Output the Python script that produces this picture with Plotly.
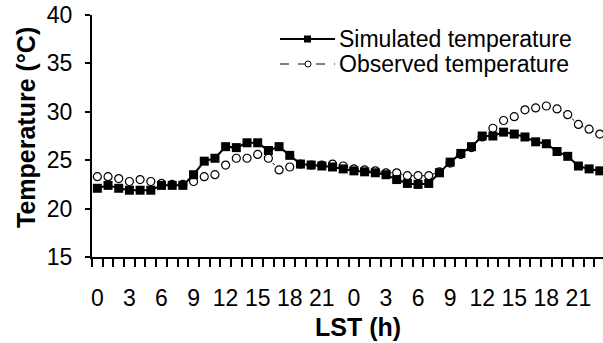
import plotly.graph_objects as go

hours = list(range(24)) * 2
x_index = list(range(48))
tick_positions = list(range(0, 48, 3))
tick_labels = [str(h) for h in hours[0:48:3]]

simulated = [22.1, 22.4, 22.1, 21.9, 21.9, 21.9, 22.4, 22.4, 22.4, 23.5, 24.9, 25.2,
             26.4, 26.3, 26.8, 26.8, 26.0, 26.4, 25.5, 24.6, 24.5, 24.4, 24.3, 24.1,
             23.9, 23.8, 23.7, 23.5, 23.0, 22.6, 22.5, 22.6, 23.7, 24.8, 25.7, 26.4,
             27.5, 27.5, 27.9, 27.7, 27.4, 26.9, 26.7, 25.9, 25.4, 24.4, 24.1, 23.9]
observed = [23.3, 23.3, 23.1, 22.8, 23.0, 22.8, 22.6, 22.5, 22.5, 22.8, 23.3, 23.5,
            24.5, 25.2, 25.2, 25.6, 25.2, 24.0, 24.3, 24.6, 24.5, 24.5, 24.6, 24.4,
            24.1, 24.0, 23.9, 23.7, 23.7, 23.4, 23.4, 23.4, 23.8, 24.7, 25.6, 26.3,
            27.4, 28.3, 29.1, 29.5, 30.2, 30.4, 30.6, 30.3, 29.7, 28.7, 28.2, 27.7]

FONT = "Liberation Sans, Arial, sans-serif"
TICK_SIZE = 23
TITLE_SIZE = 25

fig = go.Figure()
fig.add_trace(go.Scatter(
    x=x_index, y=observed, mode="lines+markers", name="Observed temperature",
    line=dict(color="black", width=1, dash="3px,8px"),
    marker=dict(symbol="circle", size=8, color="white", line=dict(color="black", width=1.2)),
    showlegend=False))
fig.add_trace(go.Scatter(
    x=x_index, y=simulated, mode="lines+markers", name="Simulated temperature",
    line=dict(color="black", width=2),
    marker=dict(symbol="square", size=9, color="black"),
    showlegend=False))

fig.update_layout(
    width=603, height=343,
    margin=dict(l=92, r=0, t=15, b=86),
    paper_bgcolor="white", plot_bgcolor="white",
    font=dict(family=FONT, color="black", size=TICK_SIZE),
    xaxis=dict(
        range=[-0.5, 47.3], showgrid=False, zeroline=False,
        showline=True, linecolor="black", linewidth=2,
        tickmode="array", tickvals=tick_positions, ticktext=tick_labels,
        ticks="outside", ticklen=19, tickcolor="rgba(0,0,0,0)",
        tickfont=dict(size=TICK_SIZE, family=FONT),
        minor=dict(tickmode="array", tickvals=[k - 0.5 for k in range(49)],
                   ticks="outside", ticklen=8, tickwidth=1.5, tickcolor="black"),
    ),
    yaxis=dict(
        range=[15, 40], showgrid=False, zeroline=False,
        showline=True, linecolor="black", linewidth=2,
        tickvals=[15, 20, 25, 30, 35, 40],
        ticks="outside", ticklen=5, tickwidth=1.5, tickcolor="black",
        ticklabelstandoff=8,
        tickfont=dict(size=TICK_SIZE, family=FONT),
    ),
)

# axis titles
fig.add_annotation(text="<b>LST (h)</b>", xref="paper", yref="paper",
                   x=(358 - 92) / 511, y=-(327 - 257) / 242,
                   showarrow=False, font=dict(size=TITLE_SIZE, family=FONT),
                   xanchor="center", yanchor="middle")
fig.add_annotation(text="<b>Temperature (°C)</b>", xref="paper", yref="paper",
                   x=-(92 - 26) / 511, y=(257 - 128) / 242, textangle=-90,
                   showarrow=False, font=dict(size=TITLE_SIZE, family=FONT),
                   xanchor="center", yanchor="middle")

# legend (manual)
def px_x(p):
    return (p - 92) / 511

def px_y(p):
    return (257 - p) / 242

rows = [("Simulated temperature", 39, "solid", 2), ("Observed temperature", 64, "dash", 1)]
for name, yy, dash, w in rows:
    fig.add_shape(type="line", xref="paper", yref="paper",
                  x0=px_x(280), x1=px_x(335), y0=px_y(yy), y1=px_y(yy),
                  line=dict(color="black", width=w, dash=dash))
    fig.add_annotation(text=name, xref="paper", yref="paper",
                       x=px_x(337), y=px_y(yy), xanchor="left", yanchor="middle",
                       showarrow=False, font=dict(size=TICK_SIZE, family=FONT))
fig.add_shape(type="rect", xref="paper", yref="paper",
              x0=px_x(304), x1=px_x(311), y0=px_y(35.5), y1=px_y(42.5),
              fillcolor="black", line=dict(color="black", width=0))
fig.add_shape(type="circle", xref="paper", yref="paper",
              x0=px_x(305), x1=px_x(311), y0=px_y(61), y1=px_y(67),
              fillcolor="white", line=dict(color="black", width=1))

fig.write_html("out.html")
